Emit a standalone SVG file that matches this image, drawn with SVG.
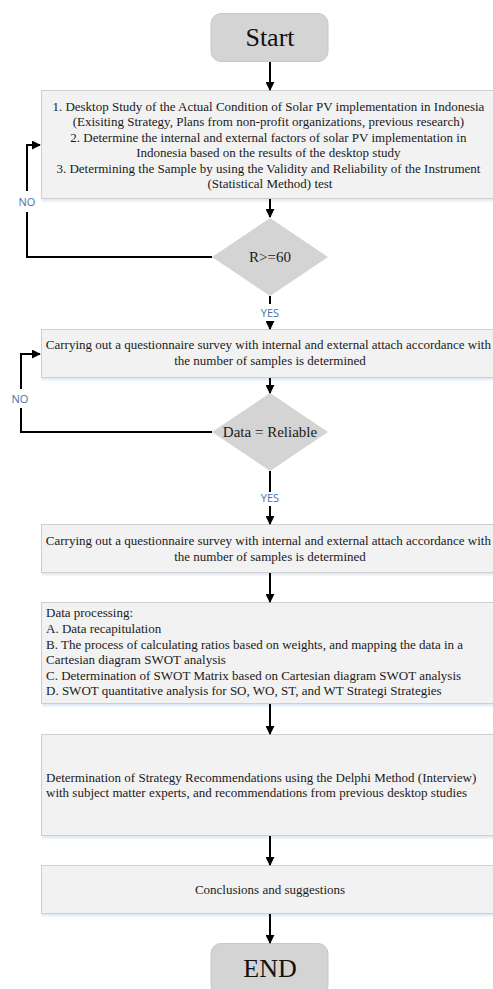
<svg xmlns="http://www.w3.org/2000/svg" width="493" height="989" viewBox="0 0 493 989">
<defs>
<style>
.term{fill:#d4d4d4;stroke:#c8c8c8;stroke-width:1}
.box{fill:#f2f2f2;stroke:#cfcfcf;stroke-width:1}
.dia{fill:#d4d4d4;stroke:none}
.shadow{fill:url(#sh)}
.t{font-family:"Liberation Serif","Times New Roman",serif;font-size:13px;fill:#1a1a1a}
.c{text-anchor:middle}
.dt{font-family:"Liberation Serif","Times New Roman",serif;font-size:15px;fill:#1a1a1a;text-anchor:middle}
.big{font-family:"Liberation Serif","Times New Roman",serif;font-size:26px;fill:#111;text-anchor:middle}
.lbl{font-family:"Open Sans","Liberation Sans",sans-serif;font-size:11px;fill:#4a72a6;text-anchor:middle}
.ln{fill:none;stroke:#000;stroke-width:2}
</style>
<linearGradient id="sh" x1="0" y1="0" x2="0" y2="1">
<stop offset="0" stop-color="#dce7f4"/>
<stop offset="1" stop-color="#ffffff"/>
</linearGradient>
<marker id="ah" viewBox="0 0 10 10" refX="9" refY="5" markerWidth="4.5" markerHeight="4.5" orient="auto" markerUnits="strokeWidth">
<path d="M0,0 L10,5 L0,10 z" fill="#000"/>
</marker>
</defs>
<rect width="493" height="989" fill="#fff"/>

<g id="start">
<rect x="211" y="13.5" width="117" height="48" rx="10" class="term"/>
<text x="270" y="46" class="big">Start</text>
</g>

<g id="box1">
<rect x="42" y="199" width="460" height="4" class="shadow"/>
<rect x="41.5" y="90.5" width="460" height="108" class="box"/>
<text class="t c">
<tspan x="270" y="111">1. Desktop Study of the Actual Condition of Solar PV implementation in Indonesia</tspan>
<tspan x="270" y="126">(Exisiting Strategy, Plans from non-profit organizations, previous research)</tspan>
<tspan x="270" y="142">2. Determine the internal and external factors of solar PV implementation in</tspan>
<tspan x="270" y="157">Indonesia based on the results of the desktop study</tspan>
<tspan x="270" y="173">3. Determining the Sample by using the Validity and Reliability of the Instrument</tspan>
<tspan x="270" y="188">(Statistical Method) test</tspan>
</text>
</g>

<g id="dec1">
<polygon points="270,218 328,257 270,296 212,257" class="dia"/>
<text x="270" y="262" class="dt">R&gt;=60</text>
</g>

<g id="box2">
<rect x="42" y="378" width="460" height="4" class="shadow"/>
<rect x="41.5" y="329.5" width="460" height="48" class="box"/>
<text class="t c">
<tspan x="270" y="349">Carrying out a questionnaire survey with internal and external attach accordance with</tspan>
<tspan x="270" y="365">the number of samples is determined</tspan>
</text>
</g>

<g id="dec2">
<polygon points="270,393 328,432 270,471 212,432" class="dia"/>
<text x="270" y="437" class="dt">Data = Reliable</text>
</g>

<g id="box3">
<rect x="42" y="573" width="460" height="4" class="shadow"/>
<rect x="41.5" y="524.5" width="460" height="48" class="box"/>
<text class="t c">
<tspan x="270" y="545">Carrying out a questionnaire survey with internal and external attach accordance with</tspan>
<tspan x="270" y="561">the number of samples is determined</tspan>
</text>
</g>

<g id="box4">
<rect x="42" y="704" width="460" height="4" class="shadow"/>
<rect x="41.5" y="602.5" width="460" height="101" class="box"/>
<text class="t">
<tspan x="46" y="617">Data processing:</tspan>
<tspan x="46" y="633">A. Data recapitulation</tspan>
<tspan x="46" y="649">B. The process of calculating ratios based on weights, and mapping the data in a</tspan>
<tspan x="46" y="664">Cartesian diagram SWOT analysis</tspan>
<tspan x="46" y="680">C. Determination of SWOT Matrix based on Cartesian diagram SWOT analysis</tspan>
<tspan x="46" y="695">D. SWOT quantitative analysis for SO, WO, ST, and WT Strategi Strategies</tspan>
</text>
</g>

<g id="box5">
<rect x="42" y="836" width="460" height="4" class="shadow"/>
<rect x="41.5" y="734.5" width="460" height="101" class="box"/>
<text class="t">
<tspan x="46" y="782">Determination of Strategy Recommendations using the Delphi Method (Interview)</tspan>
<tspan x="46" y="797">with subject matter experts, and recommendations from previous desktop studies</tspan>
</text>
</g>

<g id="box6">
<rect x="42" y="914" width="460" height="4" class="shadow"/>
<rect x="41.5" y="865.5" width="460" height="48" class="box"/>
<text x="270" y="894" class="t c">Conclusions and suggestions</text>
</g>

<g id="end">
<rect x="211" y="943.5" width="117" height="52" rx="10" class="term"/>
<text x="270" y="977" class="big">END</text>
</g>

<g id="connectors">
<line x1="270" y1="62" x2="270" y2="90" class="ln" marker-end="url(#ah)"/>
<line x1="270" y1="199" x2="270" y2="217" class="ln" marker-end="url(#ah)"/>
<polyline points="212,257 27,257 27,212" class="ln"/>
<polyline points="27,191 27,145 40,145" class="ln" marker-end="url(#ah)"/>
<text x="27" y="206" class="lbl">NO</text>
<line x1="270" y1="296" x2="270" y2="304" class="ln"/>
<text x="270" y="317" class="lbl">YES</text>
<line x1="270" y1="322" x2="270" y2="329" class="ln" marker-end="url(#ah)"/>
<line x1="270" y1="378" x2="270" y2="393" class="ln" marker-end="url(#ah)"/>
<polyline points="212,432 21,432 21,408" class="ln"/>
<polyline points="21,389 21,354 40,354" class="ln" marker-end="url(#ah)"/>
<text x="20" y="403" class="lbl">NO</text>
<line x1="270" y1="471" x2="270" y2="492" class="ln"/>
<text x="270" y="502" class="lbl">YES</text>
<line x1="270" y1="506" x2="270" y2="524" class="ln" marker-end="url(#ah)"/>
<line x1="270" y1="573" x2="270" y2="602" class="ln" marker-end="url(#ah)"/>
<line x1="270" y1="704" x2="270" y2="734" class="ln" marker-end="url(#ah)"/>
<line x1="270" y1="836" x2="270" y2="865" class="ln" marker-end="url(#ah)"/>
<line x1="270" y1="914" x2="270" y2="943" class="ln" marker-end="url(#ah)"/>
</g>
</svg>
